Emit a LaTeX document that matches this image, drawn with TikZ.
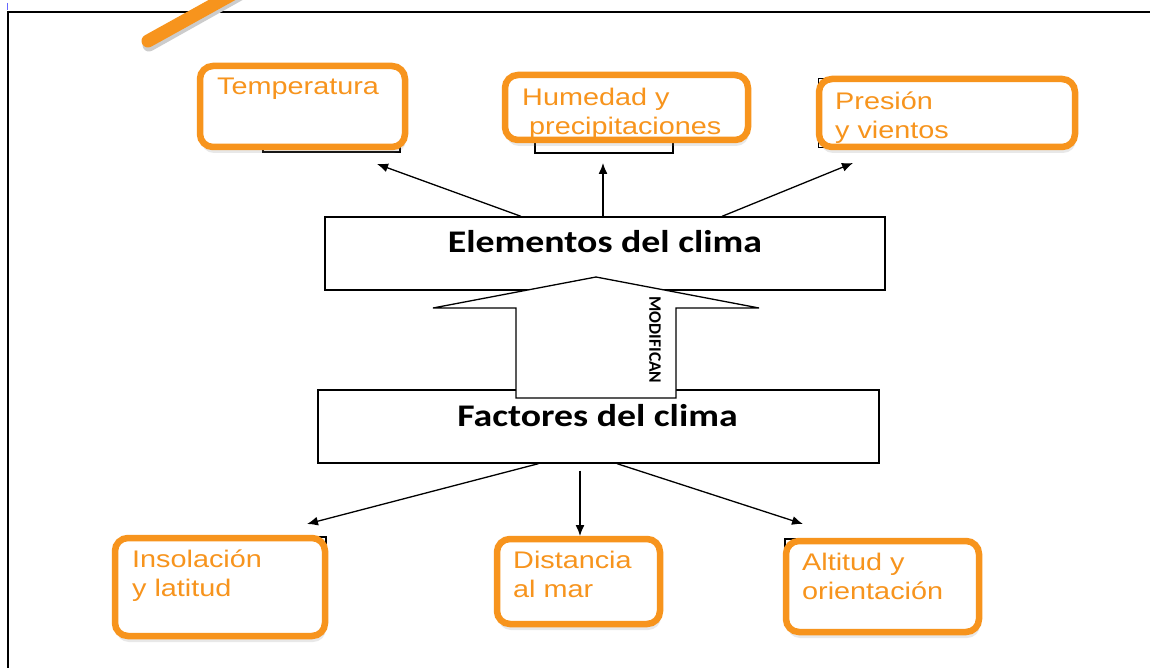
\documentclass[tikz,border=0pt]{standalone}
\usepackage{fontspec}
\usepackage{graphicx}
\setmainfont{Liberation Sans}
\newfontfamily\titlefont{Carlito}
\usetikzlibrary{arrows.meta,shadows}
\definecolor{naranja}{RGB}{247,148,29}
\newcommand{\ancho}[1]{\scalebox{1.2}[1]{#1}}

\begin{document}
\begin{tikzpicture}[x=1pt,y=-1pt]
		\tikzstyle{every node}+=[inner sep=0pt]
		\tikzset{
			caja/.style={draw=naranja, line width=6.5pt, rounded corners=13pt, fill=white,
				drop shadow={shadow xshift=1pt, shadow yshift=-6pt, opacity=0.18}},
			rotulo/.style={anchor=north west, align=left, text=naranja, font=\fontsize{24}{29}\selectfont},
			marco/.style={draw=black, line width=1.3pt, fill=white},
			titulo/.style={anchor=base, font=\titlefont\bfseries\fontsize{31.5}{36}\selectfont},
			flecha/.style={draw=black, line width=1.3pt, -{Latex[length=11pt,width=9pt]}}
		}
		\clip (0,0) rectangle (1150,668);
		\fill [white] (0,0) rectangle (1150,668);
		\draw [line width=1.2pt] (8,668) -- (8,12) -- (1150,12);
		\draw [blue!60, line width=0.8pt] (7,3) -- (7,10);
		\draw [black!20, line width=13pt, line cap=round] (149,45) -- (240,-6);
		\draw [naranja, line width=13pt, line cap=round] (148,41) -- (240,-10);
		\draw [black, line width=1.3pt] (263,70) rectangle (400,152);
		\draw [black, line width=1.3pt] (535,90) rectangle (673,153);
		\draw [black, line width=1.3pt] (818.5,78.5) rectangle (957,147.5);
		\draw [black, line width=1.3pt] (200,537) rectangle (326,600);
		\draw [black, line width=1.3pt] (785,539) rectangle (900,600);
		\node [caja, minimum width=205pt, minimum height=81pt] (temp) at (302.5,106.5) {};
		\node [caja, minimum width=243pt, minimum height=65pt] (hum) at (626.5,107.5) {};
		\node [caja, minimum width=256pt, minimum height=68pt] (pres) at (947,113) {};
		\node [caja, minimum width=210pt, minimum height=98pt] (inso) at (220,587) {};
		\node [caja, minimum width=163pt, minimum height=85pt] (dist) at (578.5,581.5) {};
		\node [caja, minimum width=193pt, minimum height=91pt] (alti) at (882.5,586.5) {};
		\node [rotulo] (tempL) at (217,78) {\ancho{Temperatura}};
		\node [rotulo] (humL) at (522,88) {\ancho{Humedad y}\\\hspace*{7pt}\ancho{precipitaciones}};
		\node [rotulo] (presL) at (835,92) {\ancho{Presión}\\\ancho{y vientos}};
		\node [rotulo] (insoL) at (132,550) {\ancho{Insolación}\\\ancho{y latitud}};
		\node [rotulo] (distL) at (513,551) {\ancho{Distancia}\\\ancho{al mar}};
		\node [rotulo] (altiL) at (802,553) {\ancho{Altitud y}\\\ancho{orientación}};
		\node [marco, minimum width=560pt, minimum height=73pt] (elem) at (605,253.5) {};
		\node [titulo] (elemT) at (605,252) {\ancho{Elementos del clima}};
		\node [marco, minimum width=561pt, minimum height=73pt] (fact) at (598.5,426.5) {};
		\node [titulo] (factT) at (597.5,426) {\ancho{Factores del clima}};
		\draw [marco] (516,398) -- (516,308) -- (433,308) -- (596,277) -- (759,308) -- (676,308) -- (676,398) -- cycle;
		\node [rotate=-90, font=\titlefont\bfseries\fontsize{17.5}{20}\selectfont] (modif) at (655,340) {MODIFICAN};
		\coordinate (tempP) at (377,164);
		\coordinate (humP) at (603,163);
		\coordinate (presP) at (853,163);
		\coordinate (insoP) at (307,524);
		\coordinate (distP) at (580,536);
		\coordinate (altiP) at (803,524);
		\draw [flecha] ([xshift=-84pt]elem.north) -- (tempP);
		\draw [flecha] ([xshift=-2pt]elem.north) -- (humP);
		\draw [flecha] ([xshift=117pt]elem.north) -- (presP);
		\draw [flecha] ([xshift=-60pt]fact.south) -- (insoP);
		\draw [flecha] ([xshift=-18.5pt,yshift=-7pt]fact.south) -- (distP);
		\draw [flecha] ([xshift=18.5pt]fact.south) -- (altiP);
	\end{tikzpicture}
\end{document}
